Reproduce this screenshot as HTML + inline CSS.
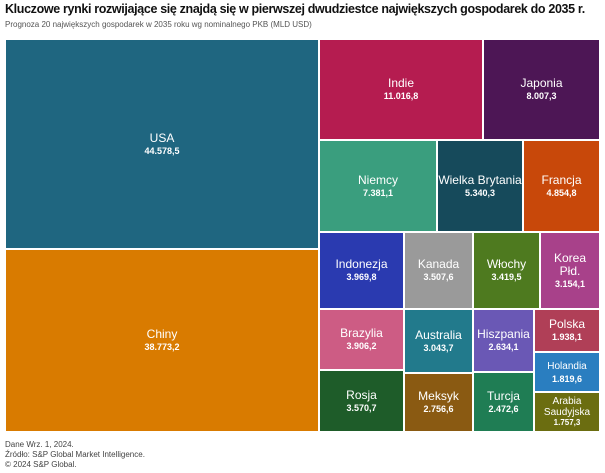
<!DOCTYPE html>
<html><head><meta charset="utf-8"><style>
body{margin:0;width:605px;height:473px;background:#fff;font-family:"Liberation Sans",sans-serif;position:relative;overflow:hidden}
.t{position:absolute;left:5px;top:2px;font-size:12.5px;font-weight:bold;color:#111;white-space:nowrap;letter-spacing:-0.35px}
.s{position:absolute;left:5px;top:20px;font-size:8px;color:#555;white-space:nowrap}
.f{position:absolute;left:5px;top:440px;font-size:8px;color:#444;line-height:10px}
.b{position:absolute;box-sizing:border-box;display:flex;flex-direction:column;align-items:center;justify-content:center;color:#fff;text-align:center;font-size:12px;line-height:13px;border:0.5px solid #fff}
.b i{font-style:normal;font-weight:bold;font-size:9px;line-height:12px}
</style></head><body>
<div class="t">Kluczowe rynki rozwijające się znajdą się w pierwszej dwudziestce największych gospodarek do 2035 r.</div>
<div class="s">Prognoza 20 największych gospodarek w 2035 roku wg nominalnego PKB (MLD USD)</div>
<div class="b" style="left:5px;top:39px;width:314px;height:210px;background:#1f6680">USA<i>44.578,5</i></div>
<div class="b" style="left:5px;top:249px;width:314px;height:183px;background:#d97b00">Chiny<i>38.773,2</i></div>
<div class="b" style="left:319px;top:39px;width:164px;height:101px;background:#b51c50">Indie<i>11.016,8</i></div>
<div class="b" style="left:483px;top:39px;width:117px;height:101px;background:#4d1655">Japonia<i>8.007,3</i></div>
<div class="b" style="left:319px;top:140px;width:118px;height:92px;background:#3a9e7e">Niemcy<i>7.381,1</i></div>
<div class="b" style="left:437px;top:140px;width:86px;height:92px;background:#164a5b">Wielka Brytania<i>5.340,3</i></div>
<div class="b" style="left:523px;top:140px;width:77px;height:92px;background:#c8480a">Francja<i>4.854,8</i></div>
<div class="b" style="left:319px;top:232px;width:85px;height:77px;background:#2a3ab0">Indonezja<i>3.969,8</i></div>
<div class="b" style="left:404px;top:232px;width:69px;height:77px;background:#9a9a9a">Kanada<i>3.507,6</i></div>
<div class="b" style="left:473px;top:232px;width:67px;height:77px;background:#4e7a1f">Włochy<i>3.419,5</i></div>
<div class="b" style="left:540px;top:232px;width:60px;height:77px;background:#a8418a">Korea<br>Płd.<i>3.154,1</i></div>
<div class="b" style="left:319px;top:309px;width:85px;height:61px;background:#cd5c84">Brazylia<i>3.906,2</i></div>
<div class="b" style="left:319px;top:370px;width:85px;height:62px;background:#1e5c29">Rosja<i>3.570,7</i></div>
<div class="b" style="left:404px;top:309px;width:69px;height:64px;background:#227a8c">Australia<i>3.043,7</i></div>
<div class="b" style="left:404px;top:373px;width:69px;height:59px;background:#8a5a12">Meksyk<i>2.756,6</i></div>
<div class="b" style="left:473px;top:309px;width:61px;height:63px;background:#6a58b5">Hiszpania<i>2.634,1</i></div>
<div class="b" style="left:473px;top:372px;width:61px;height:60px;background:#1f7d54">Turcja<i>2.472,6</i></div>
<div class="b" style="left:534px;top:309px;width:66px;height:43px;background:#b03f57">Polska<i>1.938,1</i></div>
<div class="b" style="left:534px;top:352px;width:66px;height:40px;background:#2a7ec0;font-size:10px">Holandia<i>1.819,6</i></div>
<div class="b" style="left:534px;top:392px;width:66px;height:40px;background:#6b6d10;font-size:10px;line-height:11px">Arabia<br>Saudyjska<i style="font-size:8px;line-height:10px">1.757,3</i></div>
<div class="f">Dane Wrz. 1, 2024.<br>Źródło: S&amp;P Global Market Intelligence.<br>© 2024 S&amp;P Global.</div>
</body></html>
